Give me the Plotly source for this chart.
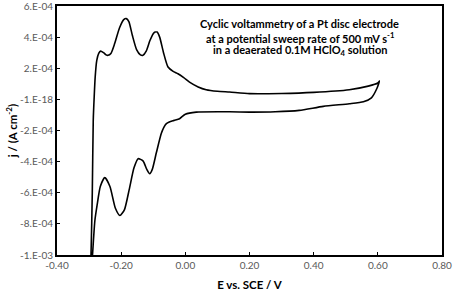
import plotly.graph_objects as go

# Cyclic voltammogram (one closed sweep)
E_V = [-0.296, -0.294, -0.290, -0.287, -0.284, -0.281, -0.276, -0.270, -0.264,
       -0.255, -0.247, -0.241, -0.232, -0.220, -0.205, -0.192, -0.184, -0.176,
       -0.165, -0.152, -0.140, -0.132, -0.122, -0.110, -0.098, -0.088, -0.080,
       -0.068, -0.054, -0.038, -0.023, -0.005, 0.013, 0.040, 0.065, 0.100,
       0.138, 0.200, 0.300, 0.400, 0.511, 0.570, 0.600, 0.605,
       0.597, 0.580, 0.555, 0.511, 0.430, 0.355, 0.280, 0.200, 0.138, 0.034,
       0.000, -0.018, -0.035, -0.050, -0.059, -0.067, -0.075, -0.090, -0.103,
       -0.111, -0.120, -0.132, -0.147, -0.160, -0.175, -0.190, -0.204, -0.218,
       -0.235, -0.251, -0.265, -0.275, -0.282, -0.289, -0.293]
j_A_cm2 = [-1.10e-3, -1.00e-3, -6.0e-4, -1.35e-4, 0.2e-4, 1.43e-4, 2.50e-4, 2.95e-4, 3.10e-4,
           3.00e-4, 2.86e-4, 2.83e-4, 2.95e-4, 3.60e-4, 4.60e-4, 5.12e-4, 5.19e-4, 5.00e-4,
           4.10e-4, 3.20e-4, 2.86e-4, 2.83e-4, 3.10e-4, 3.80e-4, 4.28e-4, 4.33e-4, 4.00e-4,
           3.00e-4, 2.08e-4, 1.80e-4, 1.65e-4, 1.40e-4, 1.11e-4, 0.80e-4, 0.62e-4, 0.52e-4,
           0.47e-4, 0.37e-4, 0.38e-4, 0.45e-4, 0.62e-4, 0.85e-4, 1.05e-4, 1.18e-4,
           0.70e-4, 0.10e-4, -0.15e-4, -0.28e-4, -0.45e-4, -0.71e-4, -0.80e-4, -0.82e-4, -0.80e-4, -0.82e-4,
           -0.95e-4, -1.24e-4, -1.35e-4, -1.45e-4, -1.56e-4, -1.80e-4, -2.20e-4, -3.40e-4, -4.50e-4,
           -4.78e-4, -4.50e-4, -3.95e-4, -3.81e-4, -4.40e-4, -5.80e-4, -7.10e-4, -7.46e-4, -7.00e-4,
           -5.60e-4, -5.03e-4, -5.60e-4, -6.80e-4, -7.80e-4, -9.90e-4, -1.10e-3]

x_ticks = [-0.40, -0.20, 0.00, 0.20, 0.40, 0.60, 0.80]
x_tick_labels = ["-0.40", "-0.20", "0.00", "0.20", "0.40", "0.60", "0.80"]
y_ticks = [6e-4, 4e-4, 2e-4, 0, -2e-4, -4e-4, -6e-4, -8e-4, -1e-3]
y_tick_labels = ["6.E-04", "4.E-04", "2.E-04", "-1.E-18", "-2.E-04", "-4.E-04",
                 "-6.E-04", "-8.E-04", "-1.E-03"]

note_lines = ["<b>Cyclic voltammetry of a Pt disc electrode</b>",
              "<b>at a potential sweep rate of 500 mV s<sup>-1</sup></b>",
              "<b>in a deaerated 0.1M HClO<sub>4</sub> solution</b>"]

FONT = "Lato"
TICKC = "#595959"

fig = go.Figure()
fig.add_trace(go.Scatter(x=E_V, y=j_A_cm2, mode="lines",
                         line=dict(color="black", width=1.6, shape="spline", smoothing=0.6),
                         showlegend=False, hoverinfo="skip"))

fig.update_layout(
    width=454, height=296,
    margin=dict(l=57, r=12, t=6, b=41, autoexpand=False),
    paper_bgcolor="white", plot_bgcolor="white",
    font=dict(family=FONT, color="black"),
    xaxis=dict(range=[-0.4, 0.8], tickvals=x_ticks, ticktext=x_tick_labels,
               automargin=False, ticklabeloverflow="allow",
               showgrid=False, zeroline=False, showline=True, linecolor="black",
               linewidth=2, mirror=True, ticks="inside", ticklen=3, tickcolor="black",
               tickfont=dict(family=FONT, size=10, color=TICKC),
               title=dict(text="<b>E vs. SCE / V</b>", font=dict(family=FONT, size=11.5),
                          standoff=11)),
    yaxis=dict(range=[-1e-3, 6e-4], tickvals=y_ticks, ticktext=y_tick_labels,
               automargin=False, ticklabeloverflow="allow",
               showgrid=False, zeroline=False, showline=True, linecolor="black",
               linewidth=2, mirror=True, ticks="inside", ticklen=3, tickcolor="black",
               tickfont=dict(family=FONT, size=10, color=TICKC),
               title=dict(text="<b>j / (A cm<sup>-2</sup>)</b>", font=dict(family=FONT, size=11.5),
                          standoff=0)),
)

for line_text, ypos in zip(note_lines, [0.928, 0.8755, 0.823]):
    fig.add_annotation(
        x=0.631, y=ypos, xref="paper", yref="paper", xanchor="center", yanchor="middle",
        align="center", showarrow=False, text=line_text,
        font=dict(family=FONT, size=11, color="black"),
    )

fig.write_html("out.html", config={"displayModeBar": False},
               post_script="document.body.style.margin='0';document.body.style.overflow='hidden';")
